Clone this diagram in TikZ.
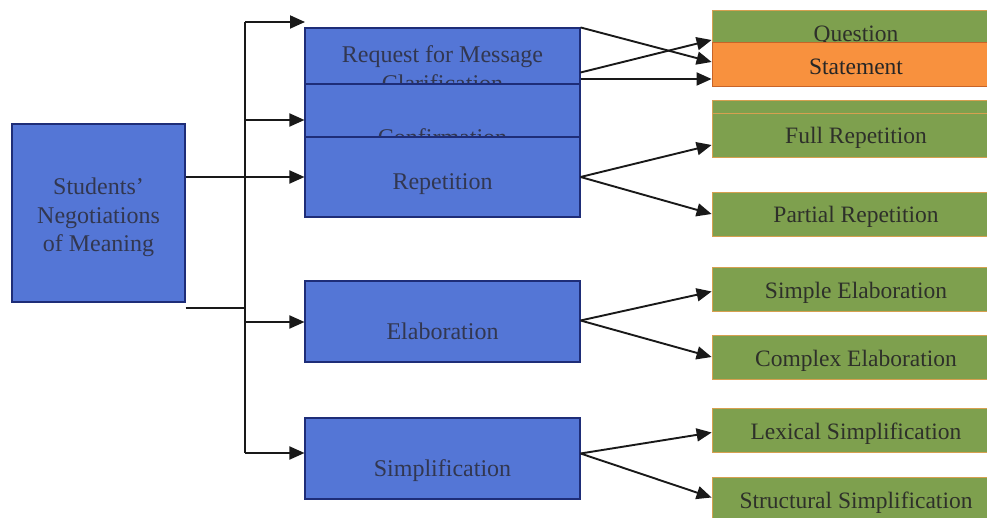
\documentclass[tikz,border=0pt]{standalone}
\usepackage{fontspec}
\setmainfont{Liberation Serif}
\usetikzlibrary{arrows.meta,calc}
\definecolor{bluefill}{RGB}{84,118,214}
\definecolor{blueedge}{RGB}{30,45,120}
\definecolor{greenfill}{RGB}{126,160,78}
\definecolor{greenedge}{RGB}{214,160,80}
\definecolor{orangefill}{RGB}{248,145,62}
\definecolor{orangeedge}{RGB}{200,100,40}
\definecolor{txtblue}{RGB}{50,55,80}
\definecolor{txtgreen}{RGB}{46,48,42}
\definecolor{linecol}{RGB}{25,25,25}
\begin{document}
\begin{tikzpicture}[x=1pt,y=-1pt,
  bluebox/.style={draw=blueedge, line width=1.1pt, fill=bluefill, text=txtblue,
    inner sep=0pt, align=center, font=\fontsize{24}{28.5}\selectfont},
  greenbox/.style={draw=greenedge, line width=0.8pt, fill=greenfill, text=txtgreen,
    inner sep=0pt, minimum width=288pt, minimum height=44pt,
    text height=20pt, text depth=2pt,
    font=\fontsize{23.5}{28}\selectfont},
  orangebox/.style={greenbox, draw=orangeedge, fill=orangefill, text=black!85,
    text height=24pt},
  conn/.style={draw=linecol, line width=1.9pt},
  arr/.style={conn, -{Triangle[length=15pt,width=13pt]}}
]
\useasboundingbox (0,0) rectangle (987,518);

% left box
\node[bluebox, minimum width=173pt, minimum height=178pt, text height=80pt, text depth=2pt] (left) at (98.5,213) {Students'\\Negotiations\\of Meaning};

% middle boxes (stacked, overlapping)
\node[bluebox, minimum width=275pt, minimum height=81pt] (req) at (442.5,68.5) {Request for Message\\Clarification};
\node[bluebox, minimum width=275pt, minimum height=106pt] (conf) at (442.5,137) {Confirmation};
\node[bluebox, minimum width=275pt, minimum height=80pt, text height=28pt, text depth=2pt] (rep) at (442.5,177) {Repetition};
\node[bluebox, minimum width=275pt, minimum height=81pt, text height=37pt, text depth=2pt] (elab) at (442.5,321.5) {Elaboration};
\node[bluebox, minimum width=275pt, minimum height=81pt, text height=37pt, text depth=2pt] (simp) at (442.5,458.5) {Simplification};

% right boxes
\node[greenbox, minimum height=46pt] (quest) at (856,33) {Question};
\node[orangebox] (stmt) at (856,64) {Statement};
\node[greenbox] (hidden) at (856,122) {};
\node[greenbox] (fullrep) at (856,135) {Full Repetition};
\node[greenbox] (partrep) at (856,214) {Partial Repetition};
\node[greenbox] (simpel) at (856,289.5) {Simple Elaboration};
\node[greenbox] (compel) at (856,357) {Complex Elaboration};
\node[greenbox] (lexsim) at (856,430.5) {Lexical Simplification};
\node[greenbox] (strsim) at (856,499.5) {Structural Simplification};

% trunk
\coordinate (j1) at (245,22);
\coordinate (e1) at (305,22);
\coordinate (j2) at (245,120);
\coordinate (j0) at (245,308);
\coordinate (j4) at (245,322);
\coordinate (j5) at (245,453);

\draw[conn] (j1) -- (j5);
\draw[conn] (left.east |- j0) -- (j0);
\draw[arr] (j1) -- (e1);
\draw[arr] (j2) -- (j2 -| conf.west);
\draw[arr] (left.east |- rep.west) -- (rep.west);
\draw[arr] (j4) -- (j4 -| elab.west);
\draw[arr] (j5) -- (j5 -| simp.west);

% fan-out arrows
\draw[arr] (req.north east) -- ($(stmt.west)+(0,-2)$);
\draw[arr] ($(req.east)+(0,4)$) -- ($(quest.west)+(0,7)$);
\draw[arr] ($(req.east)+(0,10.5)$) -- ($(stmt.west)+(0,15)$);
\draw[arr] (rep.east) -- ($(fullrep.west)+(0,10)$);
\draw[arr] (rep.east) -- (partrep.west);
\draw[arr] ($(elab.east)+(0,-1)$) -- ($(simpel.west)+(0,2)$);
\draw[arr] ($(elab.east)+(0,-1)$) -- (compel.west);
\draw[arr] ($(simp.east)+(0,-5)$) -- ($(lexsim.west)+(0,2)$);
\draw[arr] ($(simp.east)+(0,-5)$) -- ($(strsim.west)+(0,-2)$);
\end{tikzpicture}
\end{document}
